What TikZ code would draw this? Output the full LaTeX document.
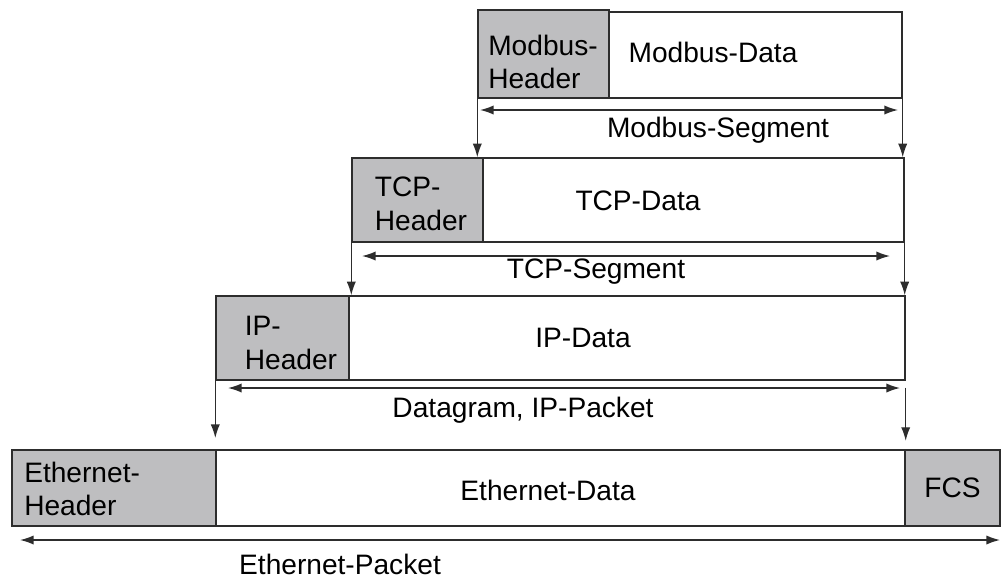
\documentclass[tikz,border=0pt]{standalone}
\usepackage{fontspec}
\setmainfont{Liberation Sans}
\usetikzlibrary{arrows.meta,fit}
\definecolor{grisclaro}{RGB}{190,190,192}
\definecolor{linea}{RGB}{45,45,45}
\begin{document}
\begin{tikzpicture}[x=0.025cm, y=-0.025cm,
    every node/.style={font=\fontsize{20}{24}\selectfont, align=left, inner sep=0pt},
    caja/.style={draw=linea, line width=1pt, fill=white, inner sep=0pt},
    cabecera/.style={caja, fill=grisclaro},
    flecha/.style={draw=linea, line width=1pt, -{Latex[length=3.4mm,width=2.3mm]}},
    doble/.style={draw=linea, line width=1pt, {Latex[length=3.4mm,width=2.3mm]}-{Latex[length=3.4mm,width=2.3mm]}}
  ]
  \useasboundingbox (0,0) rectangle (1004,581);
  % Capa Modbus
  \node[caja, fit={(609,12) (902,98)}] (mbd) {};
  \node[cabecera, fit={(478,10) (609,98)}] (mbk) {};
  \node (mbkt) at (543,62) {Modbus-\\Header};
  \node (mbdt) at (713,52) {Modbus-Data};
  % Capa TCP
  \node[caja, fit={(483,158) (904,242)}] (tcpd) {};
  \node[cabecera, fit={(352,158) (483,242)}] (tcpk) {};
  \node (tcpkt) at (421,204) {TCP-\\Header};
  \node (tcpdt) at (638,201) {TCP-Data};
  % Capa IP
  \node[caja, fit={(349,296) (905,380)}] (ipd) {};
  \node[cabecera, fit={(216,296) (349,380)}] (ipk) {};
  \node (ipkt) at (291,343) {IP-\\Header};
  \node (ipdt) at (583,338) {IP-Data};
  % Capa Ethernet
  \node[caja, fit={(216,450) (905,526)}] (ethd) {};
  \node[cabecera, fit={(12,450) (216,526)}] (ethk) {};
  \node[cabecera, fit={(905,450) (1000,526)}] (fcs) {};
  \node[anchor=west] (ethkt) at (24,489) {Ethernet-\\Header};
  \node (ethdt) at (548,490) {Ethernet-Data};
  \node (fcst) at (fcs) {FCS};
  % Longitudes de cada segmento
  \coordinate (mbl) at (480,110);  \coordinate (mbr) at (898,110);
  \coordinate (tcpl) at (362,256); \coordinate (tcpr) at (890,256);
  \coordinate (ipl) at (228,388);  \coordinate (ipr) at (900,388);
  \coordinate (ethl) at (20,540);  \coordinate (ethr) at (1000,540);
  \draw[doble] (mbl) -- (mbr);
  \node (mbs) at (718,130) {Modbus-Segment};
  \draw[doble] (tcpl) -- (tcpr);
  \node (tcps) at (596,272) {TCP-Segment};
  \draw[doble] (ipl) -- (ipr);
  \node (ips) at (523,410) {Datagram, IP-Packet};
  \draw[doble] (ethl) -- (ethr);
  \node (eths) at (340,564) {Ethernet-Packet};
  % Encapsulado: flechas hacia la capa inferior
  \draw[flecha] (mbk.south west) -- (mbk.south west |- tcpd.north);
  \draw[flecha] (mbd.south east) -- (mbd.south east |- tcpd.north);
  \draw[flecha] (tcpk.south west) -- (tcpk.south west |- ipd.north);
  \draw[flecha] (tcpd.south east) -- (tcpd.south east |- ipd.north);
  \draw[flecha, shorten >=8\pgflinewidth] (ipk.south west) -- (ipk.south west |- ethd.north);
  \draw[flecha, shorten <=5, shorten >=6\pgflinewidth] (ipd.south east) -- (ipd.south east |- ethd.north);
\end{tikzpicture}
\end{document}
